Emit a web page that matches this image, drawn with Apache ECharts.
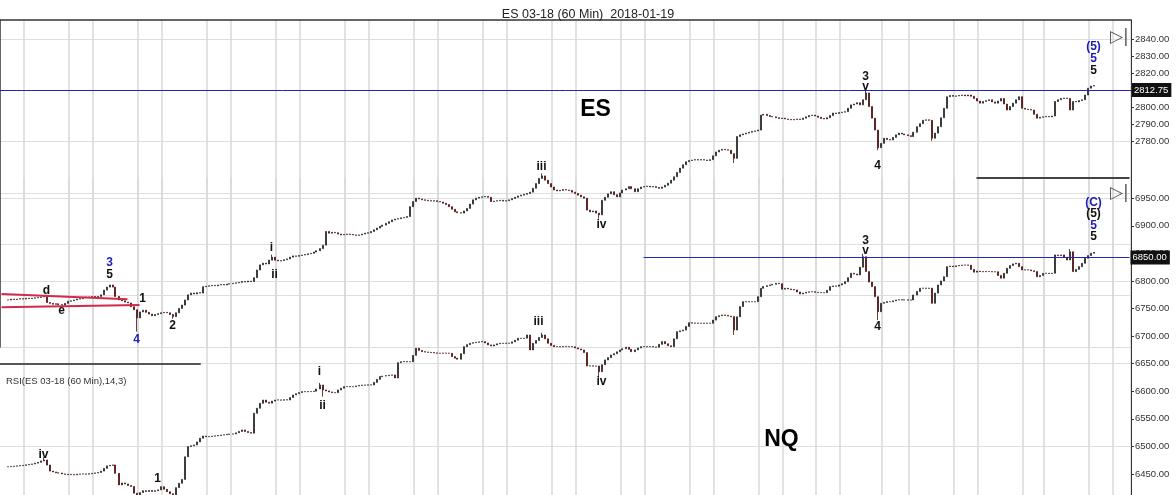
<!DOCTYPE html>
<html><head><meta charset="utf-8">
<script src="https://cdn.jsdelivr.net/npm/echarts@6/dist/echarts.min.js"></script>
<style>html,body{margin:0;padding:0;background:#fff;overflow:hidden}#c{width:1176px;height:530px}</style>
</head><body><div id="c"></div>
<script>
// ---------- data (hourly bars; leading nulls = empty hours) ----------
const esClose = [null, null,
 2687.5, 2688, 2687.75, 2688, 2688.25, 2688, 2688.5, 2688.25,
 2688.5, 2688.75, 2689, 2689.25, 2689.5, 2686, 2685.5, 2685, 2685.25, 2684.75,
 2684.5, 2685.5, 2686.75, 2687, 2687.5, 2688, 2688.25, 2689, 2689.25, 2689,
 2689.5, 2689.25, 2689.5, 2690.5, 2693.25, 2695, 2696.25, 2695, 2689.5, 2687.5,
 2687, 2686.25, 2685.75, 2683.5, 2681.75, 2677, 2680.5, 2681.5, 2680.25, 2679.25,
 2678.25, 2679, 2679.5, 2680, 2680.25, 2680, 2679, 2677.75, 2680, 2682.5,
 2684.5, 2687.5, 2690.5, 2691.5, 2691, 2691.75, 2691.5, 2695.25, 2695.5, 2695.75,
 2696, 2695.75, 2696.25, 2696.5, 2696.25, 2696.75, 2697, 2697.25, 2697.5, 2697.75,
 2698.25, 2698, 2698.5, 2698.25, 2700.5, 2705, 2708, 2709, 2708.5, 2710.75,
 2712.5, 2710.75, 2710.25, 2710.5, 2711, 2711.5, 2712.5, 2713.25, 2713, 2713.5,
 2713.75, 2714, 2714.5, 2714.75, 2715.5, 2716.25, 2717.5, 2719.5, 2727.5, 2726.5,
 2727, 2726.75, 2726, 2725.5, 2725.75, 2726, 2725.75, 2725.5, 2725.25, 2725.5,
 2726, 2726.5, 2726.75, 2727.5, 2728.5, 2729.5, 2730.5, 2731.25, 2732.25, 2733.25,
 2734.25, 2734.75, 2735, 2735.5, 2735.75, 2736.25, 2742, 2745, 2747, 2746.5,
 2746, 2745.75, 2745.5, 2745.25, 2745.5, 2745, 2744.75, 2744, 2743.25, 2742,
 2740.5, 2739, 2738.5, 2738.25, 2739.5, 2741, 2743.5, 2746, 2747, 2747.5,
 2747.75, 2748, 2747.5, 2745, 2745.25, 2745.5, 2745.75, 2745.25, 2745.5, 2746,
 2746.75, 2747.5, 2748.25, 2748.75, 2749.25, 2749.75, 2750.5, 2752.75, 2755.5, 2758.5,
 2760, 2757.5, 2755.5, 2753.5, 2751.75, 2751.25, 2751.5, 2752, 2751.75, 2751.5,
 2750.5, 2749.75, 2748.75, 2747.75, 2747, 2740, 2739, 2739.5, 2738.25, 2737.25,
 2745.75, 2747.5, 2749.5, 2750.75, 2749, 2747.75, 2750, 2751.75, 2752.5, 2753.75,
 2752.5, 2750.75, 2752.5, 2753.5, 2753.75, 2754, 2753.5, 2753.75, 2753.25, 2752.75,
 2753.5, 2754.5, 2755.75, 2757.5, 2759.5, 2762, 2764.5, 2766.5, 2768.25, 2769,
 2769.25, 2769.5, 2769.25, 2769.5, 2769.25, 2769, 2769.5, 2771.75, 2774, 2775,
 2775.5, 2775.25, 2775, 2773, 2770.25, 2783, 2784, 2784.5, 2785, 2785.5,
 2786, 2786.25, 2786.75, 2795.5, 2796, 2795.25, 2794.75, 2794.5, 2794, 2793.5,
 2793.75, 2793.25, 2793, 2792.75, 2793, 2793.25, 2793, 2793.75, 2794.5, 2795.25,
 2795.5, 2795, 2794.25, 2793.5, 2793.25, 2794, 2795.25, 2796.75, 2796.5, 2797,
 2797.25, 2797.5, 2799.5, 2801.5, 2802, 2802.75, 2801.5, 2804.5, 2808.5, 2800.5,
 2793.75, 2786.75, 2776.5, 2779, 2782, 2781.25, 2781, 2782.5, 2784, 2785,
 2784.5, 2784, 2783.5, 2783, 2785.5, 2788.75, 2790.5, 2792.5, 2792.75, 2792.5,
 2782, 2785, 2788.75, 2794, 2799.5, 2806.25, 2807, 2806.5, 2806.75, 2807,
 2807.25, 2806.75, 2807.25, 2806.5, 2805.25, 2803.75, 2802.5, 2803.5, 2804, 2804.5,
 2803.25, 2802.5, 2803.75, 2805.25, 2802, 2798.5, 2800.5, 2802.5, 2804.5, 2806.25,
 2799.5, 2799, 2798.75, 2798.5, 2796, 2793.75, 2794.25, 2794.5, 2794.75, 2794.5,
 2795, 2803.5, 2804.5, 2805.25, 2805.5, 2805.25, 2798.5, 2803.5, 2803.25, 2804,
 2804.5, 2807.25, 2811.25, 2812.5, 2812.75];

const nqClose = [null, null,
 6463, 6463.5, 6464, 6464.5, 6465, 6465.5, 6466.5, 6467.25,
 6468, 6469.5, 6471, 6473.5, 6475.25, 6466, 6455, 6453.5, 6452, 6451.5,
 6450, 6449.25, 6448.5, 6449, 6448.25, 6449.5, 6449.75, 6450, 6449.5, 6450.25,
 6451, 6451.75, 6452.5, 6455, 6460, 6464.5, 6465.5, 6466.25, 6451, 6430,
 6433.5, 6431.75, 6429, 6427, 6415, 6408, 6416, 6419.5, 6418, 6420,
 6418.25, 6419.5, 6421, 6426.75, 6422, 6417.75, 6414, 6412, 6425, 6433,
 6440, 6481, 6499.5, 6501, 6502.5, 6508, 6514.75, 6518.75, 6517.5, 6517.75,
 6518.5, 6519, 6519.75, 6520.5, 6521, 6521.75, 6522.25, 6522.5, 6524.5, 6527,
 6529.75, 6527, 6525, 6523.75, 6560, 6569, 6578, 6584, 6580, 6578.25,
 6582, 6584, 6584.25, 6583.75, 6584.5, 6584, 6588.5, 6593.25, 6595.5, 6597.5,
 6599.25, 6599, 6599.5, 6599.25, 6600, 6604, 6611.25, 6602.25, 6600.5, 6598.75,
 6597.5, 6597.25, 6602.25, 6605.5, 6608.25, 6608.5, 6608, 6608.25, 6609.5, 6610.5,
 6611.25, 6611, 6611.5, 6611.25, 6616, 6621.5, 6626.5, 6627.5, 6628.25, 6629,
 6629.5, 6624, 6651.75, 6653.5, 6654, 6653.25, 6653.5, 6665, 6678, 6674,
 6671.75, 6671, 6670.5, 6670, 6669.5, 6669, 6668.75, 6669.25, 6669, 6668.75,
 6662.75, 6660, 6658, 6668, 6680.75, 6684.5, 6687, 6688, 6688.75, 6689.5,
 6690, 6687.5, 6684, 6682, 6684, 6686, 6687, 6686.75, 6687.25, 6687,
 6689.5, 6692.5, 6696, 6695.75, 6696.25, 6702, 6674.75, 6687, 6692, 6697.5,
 6702, 6695, 6687, 6683, 6680.75, 6681, 6680.5, 6681.25, 6680.75, 6681,
 6680.5, 6678.5, 6676.5, 6674.75, 6670, 6645.75, 6646, 6645.5, 6645.75, 6635.5,
 6648, 6656.75, 6661, 6665.75, 6668, 6671.5, 6674.75, 6677, 6679.75, 6676,
 6671.75, 6675, 6678.5, 6680.75, 6681, 6680.5, 6681, 6680.25, 6679.75, 6685,
 6690, 6686, 6682.5, 6680.75, 6695, 6708, 6709.5, 6711, 6717.5, 6724.25,
 6723.5, 6723.75, 6723.25, 6723.5, 6723, 6723.5, 6723.25, 6729, 6735.25, 6737,
 6738.25, 6737.5, 6736.25, 6735.25, 6711, 6735, 6753.5, 6762.5, 6762, 6762.5,
 6762.25, 6762.5, 6771.5, 6786.75, 6790, 6791.5, 6792.75, 6794, 6795.75, 6795,
 6785, 6786.75, 6785.5, 6784.5, 6783.75, 6780, 6776.5, 6778, 6779.5, 6780.25,
 6780.5, 6779.5, 6779, 6778.75, 6778.75, 6783, 6789.75, 6791, 6790.5, 6792.75,
 6795, 6798.75, 6806, 6814, 6812.5, 6811, 6825, 6844, 6817, 6798,
 6789.75, 6771.5, 6744.25, 6759.5, 6761, 6762.5, 6762.25, 6764, 6765.5, 6766,
 6765.5, 6765.75, 6765.25, 6765.5, 6774.5, 6781, 6786.75, 6787, 6786.5, 6787,
 6759.5, 6778, 6792.75, 6800, 6807.75, 6826, 6827, 6826, 6827.5, 6828.25,
 6828.75, 6829, 6828.5, 6821, 6816, 6818, 6817, 6816.75, 6817.25, 6817,
 6816.5, 6816.75, 6810, 6805, 6814, 6823, 6828, 6831, 6832, 6826,
 6820, 6820.25, 6820, 6818.5, 6817, 6807.75, 6810, 6813.75, 6814, 6813.5,
 6814, 6847.25, 6846, 6847.25, 6843, 6838, 6853, 6817, 6821, 6826,
 6832, 6841.25, 6846, 6850.25, 6852];

// long wicks: [bar, low, high]
const esWicks = [[45, 2669, null], [57, 2676.5, null], [90, null, 2714], [180, null, 2761.5],
 [199, 2735, null], [244, 2767.5, null], [288, null, 2810.5], [292, 2775, null], [310, 2780.5, null]];
const nqWicks = [[14, null, 6480], [45, 6398, null], [57, 6405, null], [106, null, 6615], [107, 6590, null],
 [180, null, 6706], [199, 6624, null], [244, 6702, null], [287, null, 6849], [292, 6729, null], [356, null, 6858]];

// price-scale tick labels
const esTicks = [2780, 2790, 2800, 2810, 2820, 2830, 2840];
const nqTicks = [6450, 6500, 6550, 6600, 6650, 6700, 6750, 6800, 6850, 6900, 6950];

const barCount = 377;
const sessionBars = [8, 23, 31, 46, 54, 69, 77, 92, 100, 115, 123, 138, 146, 161, 169, 184, 192,
 207, 215, 230, 238, 253, 261, 272, 280, 294, 303, 318, 326, 341, 348, 363, 371];

const esLevel = 2810.2, esLastLabel = '2812.75';
const nqLevel = 6842.6, nqLastLabel = '6850.00', nqLevelStart = 214;
const nqPaneTop = 6986.8, nqPaneStart = 325;
const esTrendUpper = [[0, 2691], [42, 2687.9]];
const esTrendLower = [[0, 2683.2], [46, 2684.5]];

const BLUE = '#1c1cb4', BLK = '#111';
// wave labels: [bar, price, text, color]
const esNotes = [[364, 2835.3, '(5)', BLUE], [364, 2828.2, '5', BLUE], [364, 2821.3, '5', BLK],
 [288, 2818, '3', BLK], [288, 2812.1, 'v', BLK], [292, 2765.8, '4', BLK],
 [180, 2765.4, 'iii', BLK], [200, 2731.7, 'iv', BLK], [90, 2718, 'i', BLK], [91, 2702.5, 'ii', BLK],
 [15, 2692.9, 'd', BLK], [20, 2681.2, 'e', BLK], [36, 2709.3, '3', BLUE], [36, 2702.1, '5', BLK],
 [47, 2688.5, '1', BLK], [45, 2664.5, '4', BLUE], [57, 2672.4, '2', BLK]];
const nqNotes = [[364, 6942, '(C)', BLUE], [364, 6922.8, '(5)', BLK], [364, 6899.8, '5', BLUE], [364, 6880.3, '5', BLK],
 [288, 6873.1, '3', BLK], [288, 6855, 'v', BLK], [292, 6716.6, '4', BLK],
 [179, 6725.6, 'iii', BLK], [200, 6616.8, 'iv', BLK], [106, 6635, 'i', BLK], [107, 6573.3, 'ii', BLK],
 [14, 6484.4, 'iv', BLK], [52, 6440.8, '1', BLK]];
const esBig = [198, 2798.5, 'ES'];
const nqBig = [260, 6511.6, 'NQ'];

// ---------- build ----------
const cats = Array.from({length: barCount}, (_, i) => 'b' + i);
function toOHLC(closes, wicks) {
  const out = []; let prev = null;
  closes.forEach((c, i) => {
    if (c == null) { out.push('-'); return; }
    const o = prev == null ? c : prev;
    let lo = Math.min(o, c), hi = Math.max(o, c);
    const w = wicks.find(x => x[0] === i);
    if (w) { if (w[1] != null) lo = w[1]; if (w[2] != null) hi = w[2]; }
    out.push([o, c, lo, hi]); prev = c;
  });
  return out;
}
const FONT = 'Liberation Sans, Arial, sans-serif';
function notes(list) {
  return list.map(n => ({coord: [n[0], n[1]], symbol: 'circle', symbolSize: 1,
    itemStyle: {color: 'rgba(0,0,0,0)'},
    label: {show: true, position: 'inside', formatter: n[2], color: n[3], fontSize: 12, fontWeight: 'bold', fontFamily: FONT}}));
}
function big(n) {
  return {coord: [n[0], n[1]], symbol: 'circle', symbolSize: 1, itemStyle: {color: 'rgba(0,0,0,0)'},
    label: {show: true, position: 'inside', formatter: n[2], color: '#000', fontSize: 23, fontWeight: 'bold', fontFamily: FONT}};
}
const sessSet = new Set(sessionBars);
const vGrid = {show: true, interval: (i) => sessSet.has(i), lineStyle: {color: '#d9d9d9', width: 1.5}};
const tagLabel = (t) => ({show: true, position: 'end', formatter: t, distance: 1, color: '#fff', backgroundColor: '#111',
  padding: [2, 3, 2, 2], fontSize: 9.5, fontFamily: FONT});
const levelStyle = {color: '#2424b8', width: 1, type: 'solid'};
const trendStyle = {color: '#d42a4a', width: 2, type: 'solid'};
const candleStyle = {color: '#7d877d', borderColor: '#1a1a1a', color0: '#7a1a1a', borderColor0: '#4a0c0c', borderWidth: 0.8};
const priceAxis = (grid, min, max, ticks) => ({gridIndex: grid, type: 'value', min, max, position: 'right',
  axisLine: {show: true, onZero: false, lineStyle: {color: '#333', width: 1}},
  axisTick: {show: true, length: 3, customValues: ticks, lineStyle: {color: '#333'}},
  axisLabel: {margin: 4, fontSize: 9.5, color: '#333', fontFamily: FONT, customValues: ticks, formatter: v => v.toFixed(2)},
  splitLine: {show: false}});
const gridAxis = (grid, min, max, step) => ({gridIndex: grid, type: 'value', min, max, interval: step, position: 'left',
  axisLine: {show: false, onZero: false}, axisTick: {show: false}, axisLabel: {show: false},
  splitLine: {show: true, showMaxLine: false, lineStyle: {color: '#dedede', width: 1}}});

const chart = echarts.init(document.getElementById('c'), null, {renderer: 'canvas'});
const esGridAxis = gridAxis(0, 2660, 2851.1, 30);
esGridAxis.axisLine = {show: true, onZero: false, lineStyle: {color: '#333', width: 1.5}};
chart.setOption({
  animation: false,
  backgroundColor: '#fff',
  title: [
    {text: 'ES 03-18 (60 Min)  2018-01-19', left: 'center', top: 3, textStyle: {fontSize: 12.5, fontWeight: 'normal', color: '#222', fontFamily: FONT}},
    {text: 'RSI(ES 03-18 (60 Min),14,3)', left: 1, top: 371, textStyle: {fontSize: 9.5, fontWeight: 'normal', color: '#333', fontFamily: FONT}},
    {text: '▷|', left: 1105, top: 24, textStyle: {fontSize: 17, fontWeight: 'normal', color: '#555', fontFamily: 'DejaVu Sans'}},
    {text: '▷|', left: 1105, top: 180, textStyle: {fontSize: 17, fontWeight: 'normal', color: '#555', fontFamily: 'DejaVu Sans'}}
  ],
  grid: [
    {left: 0, top: 20, width: 1131, height: 327},     // ES
    {left: 0, top: 178, width: 1131, height: 351},    // NQ
    {left: 0, top: 364, width: 200, height: 40}       // RSI pane edge
  ],
  xAxis: [
    {gridIndex: 0, type: 'category', data: cats, boundaryGap: true, position: 'top',
     axisLine: {show: true, onZero: false, lineStyle: {color: '#333', width: 1.5}}, axisTick: {show: false}, axisLabel: {show: false}, splitLine: vGrid},
    {gridIndex: 1, type: 'category', data: cats, boundaryGap: true,
     axisLine: {show: false, onZero: false}, axisTick: {show: false}, axisLabel: {show: false}, splitLine: vGrid},
    {gridIndex: 2, type: 'value', min: 0, max: 1, position: 'top',
     axisLine: {show: true, onZero: false, lineStyle: {color: '#555', width: 2}}, axisTick: {show: false}, axisLabel: {show: false}, splitLine: {show: false}}
  ],
  yAxis: [
    esGridAxis,                                   // 0
    priceAxis(0, 2660, 2851.1, esTicks),          // 1
    priceAxis(1, 6350, 6986.8, nqTicks),          // 2
    gridAxis(1, 6350, 6986.8, 150),               // 3
    {gridIndex: 2, type: 'value', show: false, min: 0, max: 1, axisLine: {onZero: false}}
  ],
  series: [
    {type: 'candlestick', name: 'ES', xAxisIndex: 0, yAxisIndex: 0, data: toOHLC(esClose, esWicks),
     barWidth: 1.5, itemStyle: candleStyle, z: 3,
     markLine: {silent: true, symbol: ['none', 'none'], label: {show: false},
       data: [
         {yAxis: esLevel, lineStyle: levelStyle, label: tagLabel(esLastLabel)},
         [{coord: esTrendUpper[0], lineStyle: trendStyle}, {coord: esTrendUpper[1]}],
         [{coord: esTrendLower[0], lineStyle: trendStyle}, {coord: esTrendLower[1]}]
       ]},
     markPoint: {silent: true, data: notes(esNotes).concat([big(esBig)])}},
    {type: 'candlestick', name: 'NQ', xAxisIndex: 1, yAxisIndex: 2, data: toOHLC(nqClose, nqWicks),
     barWidth: 1.5, itemStyle: candleStyle, z: 3,
     markLine: {silent: true, symbol: ['none', 'none'], label: {show: false}, lineStyle: levelStyle,
       data: [
         [{coord: [nqLevelStart, nqLevel], lineStyle: levelStyle, label: tagLabel(nqLastLabel)}, {coord: [barCount - 1, nqLevel]}],
         [{coord: [nqPaneStart, nqPaneTop], lineStyle: {color: '#444', width: 2, type: 'solid'}}, {coord: [barCount - 1, nqPaneTop]}]
       ]},
     markPoint: {silent: true, data: notes(nqNotes).concat([big(nqBig)])}}
  ]
});
</script></body></html>
